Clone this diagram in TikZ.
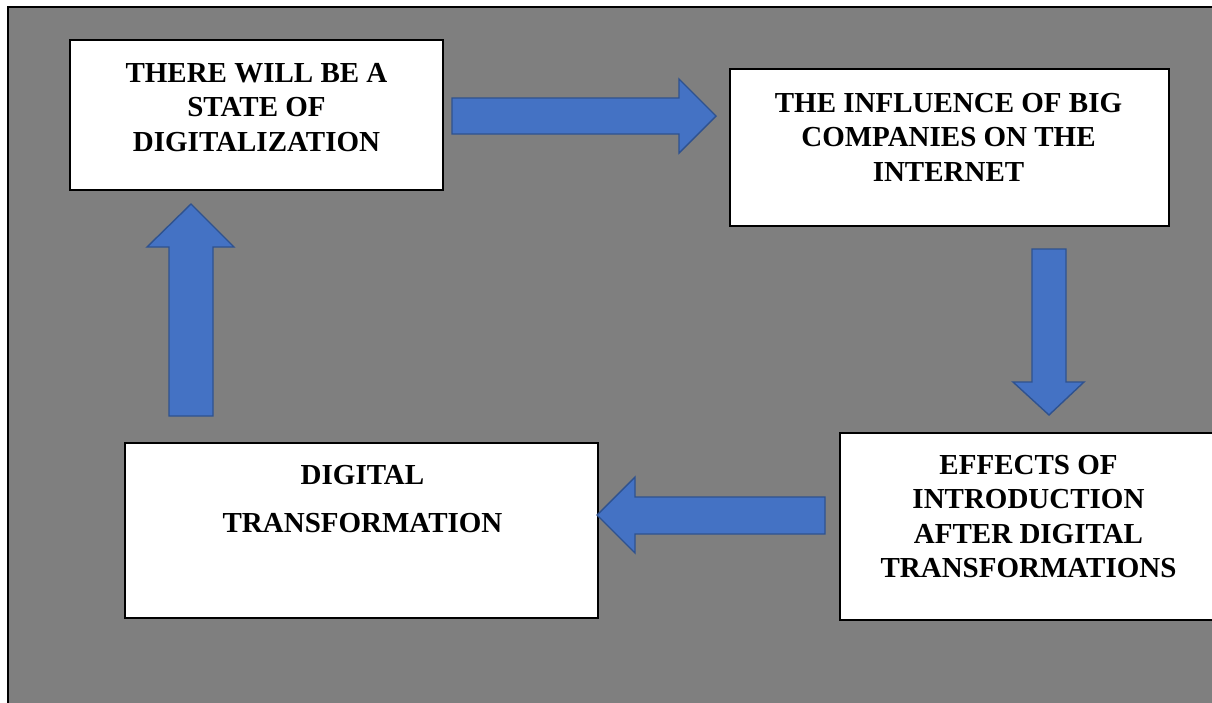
\documentclass[tikz,border=0pt]{standalone}
\usepackage{fontspec}
\setmainfont{Liberation Serif}
\definecolor{bggray}{HTML}{7F7F7F}
\definecolor{arrfill}{HTML}{4472C4}
\definecolor{arrdraw}{HTML}{2F528F}
\begin{document}
\begin{tikzpicture}[x=1pt,y=-1pt,
  boxst/.style={draw=black,line width=1.3pt,fill=white},
  lbl/.style={inner sep=0pt,align=center,font=\bfseries\fontsize{29}{34.5}\selectfont,anchor=north},
  blockarrow/.style={fill=arrfill,draw=arrdraw,line width=1.4pt,line join=miter}]
\useasboundingbox (0,0) rectangle (1212,702);
% background
\fill[bggray] (8,7) rectangle (1214,704);
\draw[line width=2.4pt] (8,704) -- (8,7) -- (1214,7);
% boxes
\draw[boxst] (70,40) rectangle (443,190) coordinate (b1c);
\node[lbl] (t1) at (256.5,63) {THERE WILL BE A\\STATE OF\\DIGITALIZATION};
\draw[boxst] (730,69) rectangle (1169,226);
\node[lbl] (t2) at (948.5,93) {THE INFLUENCE OF BIG\\COMPANIES ON THE\\INTERNET};
\draw[boxst] (840,433) rectangle (1218,620);
\node[lbl] (t3) at (1028.5,455) {EFFECTS OF\\INTRODUCTION\\AFTER DIGITAL\\TRANSFORMATIONS};
\draw[boxst] (125,443) rectangle (598,618);
\node[lbl] (t4) at (362.5,465) {DIGITAL\\[13.5pt]TRANSFORMATION};
% block arrows
\draw[blockarrow] (452,98) -- (679,98) -- (679,79) -- (716,116) -- (679,153) -- (679,134) -- (452,134) -- cycle;
\draw[blockarrow] (1032,249) -- (1066,249) -- (1066,382) -- (1084,382) -- (1049,415) -- (1013,382) -- (1032,382) -- cycle;
\draw[blockarrow] (825,497) -- (635,497) -- (635,477) -- (597,515) -- (635,553) -- (635,534) -- (825,534) -- cycle;
\draw[blockarrow] (169,416) -- (169,247) -- (147,247) -- (191,204) -- (234,247) -- (213,247) -- (213,416) -- cycle;
\end{tikzpicture}
\end{document}
